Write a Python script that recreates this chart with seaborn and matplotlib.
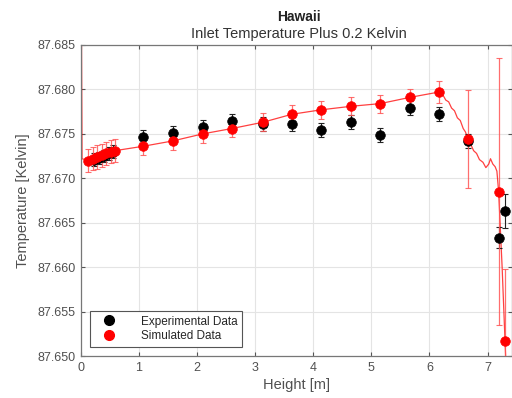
import matplotlib
matplotlib.use("Agg")
import matplotlib.pyplot as plt
import seaborn as sns
import pandas as pd
from matplotlib.lines import Line2D

# Simulated data points (height in m, temperature in K, uncertainty in K)
sim_height = [0.12, 0.20, 0.28, 0.36, 0.44, 0.52, 0.58, 1.07, 1.58, 2.10, 2.60,
              3.13, 3.63, 4.13, 4.65, 5.15, 5.66, 6.16, 6.66, 7.19, 7.30]
sim_temp = [87.6720, 87.6722, 87.6724, 87.6726, 87.6728, 87.6730, 87.6731,
            87.6736, 87.6742, 87.6750, 87.6756, 87.6763, 87.6772, 87.6777,
            87.6781, 87.6784, 87.6791, 87.6797, 87.6744, 87.6685, 87.6517]
sim_err = [0.0013, 0.0013, 0.0013, 0.0013, 0.0013, 0.0013, 0.0013,
           0.0010, 0.0010, 0.0010, 0.0010, 0.0010, 0.0010, 0.0010,
           0.0010, 0.0010, 0.0010, 0.0012, 0.0055, 0.0150, 0.0081]

# Experimental data points
exp_height = [0.22, 0.32, 0.40, 0.48, 0.56, 1.07, 1.58, 2.10, 2.60, 3.13, 3.63,
              4.13, 4.65, 5.15, 5.66, 6.16, 6.66, 7.19, 7.30]
exp_temp = [87.6721, 87.6723, 87.6725, 87.6728, 87.6730, 87.6746, 87.6751,
            87.6758, 87.6764, 87.6761, 87.6761, 87.6754, 87.6763, 87.6749,
            87.6779, 87.6772, 87.6742, 87.6633, 87.6663]
exp_err = [0.0007, 0.0007, 0.0007, 0.0007, 0.0007, 0.0008, 0.0008, 0.0008,
           0.0008, 0.0008, 0.0008, 0.0008, 0.0008, 0.0008, 0.0008, 0.0008,
           0.0008, 0.0012, 0.0019]

# Continuous simulated temperature profile along the height
profile_height = [0.0, 0.02, 0.12, 0.58, 1.07, 1.58, 2.10, 2.60, 3.13, 3.63,
                  4.13, 4.65, 5.15, 5.66, 6.16, 6.22, 6.28, 6.33, 6.38, 6.43,
                  6.48, 6.53, 6.58, 6.62, 6.66, 6.71, 6.76, 6.81, 6.86, 6.92,
                  6.97, 7.02, 7.05, 7.09, 7.13, 7.16, 7.19, 7.25, 7.30, 7.34]
profile_temp = [87.7000, 87.6722, 87.6720, 87.6731, 87.6736, 87.6742, 87.6750,
                87.6756, 87.6763, 87.6772, 87.6777, 87.6781, 87.6784, 87.6791,
                87.6797, 87.6795, 87.6788, 87.6786, 87.6779, 87.6776, 87.6768,
                87.6765, 87.6756, 87.6752, 87.6744, 87.6738, 87.6731, 87.6728,
                87.6721, 87.6718, 87.6712, 87.6716, 87.6722, 87.6716, 87.6713,
                87.6708, 87.6685, 87.6600, 87.6517, 87.6450]

x_ticks = [0, 1, 2, 3, 4, 5, 6, 7]
y_ticks = [87.650, 87.655, 87.660, 87.665, 87.670, 87.675, 87.680, 87.685]

sns.set_style("white")
plt.rcParams["font.family"] = ["Liberation Sans", "DejaVu Sans"]

fig = plt.figure(figsize=(5.12, 3.98), dpi=100)
ax = fig.add_axes([0.158, 0.1055, 0.842, 0.7815])

prof = pd.DataFrame({"h": profile_height, "t": profile_temp})
sim = pd.DataFrame({"h": sim_height, "t": sim_temp, "e": sim_err})
exp = pd.DataFrame({"h": exp_height, "t": exp_temp, "e": exp_err})

red = "#ff0000"
sns.lineplot(data=prof, x="h", y="t", ax=ax, color=red, lw=0.9, alpha=0.75,
             sort=False, zorder=2)

ax.errorbar(exp["h"], exp["t"], yerr=exp["e"], fmt="none", ecolor="#222222",
            elinewidth=0.8, capsize=2.5, capthick=0.8, zorder=3)
ax.errorbar(sim["h"], sim["t"], yerr=sim["e"], fmt="none", ecolor="#ff5555",
            elinewidth=0.9, capsize=2.5, capthick=0.8, alpha=0.85, zorder=3)

sns.scatterplot(data=exp, x="h", y="t", ax=ax, color="black", s=48,
                edgecolor="black", linewidth=0.5, zorder=4)
sns.scatterplot(data=sim, x="h", y="t", ax=ax, color=red, s=48,
                edgecolor=red, linewidth=0.5, zorder=5)

ax.set_xlim(0, 7.42)
ax.set_ylim(87.650, 87.685)
ax.set_xticks(x_ticks)
ax.set_yticks(y_ticks)
ax.set_yticklabels([f"{v:.3f}" for v in y_ticks])
ax.grid(True, color="#e4e4e4", lw=0.8)
ax.set_axisbelow(True)
ax.tick_params(direction="in", length=3, width=0.8, colors="#555555",
               labelsize=9, labelcolor="#505050", top=True, right=True,
               bottom=True, left=True, pad=4)
for side in ["left", "bottom", "top", "right"]:
    ax.spines[side].set_color("#777777")
    ax.spines[side].set_linewidth(0.9)

ax.set_xlabel("Height [m]", fontsize=10.5, color="#505050", labelpad=3)
ax.set_ylabel("Temperature [Kelvin]", fontsize=10.5, color="#505050", labelpad=5)

fig.text(0.584, 0.958, "Hawaii", ha="center", va="center", fontsize=10,
         fontweight="bold", color="#222222")
fig.text(0.584, 0.914, "Inlet Temperature Plus 0.2 Kelvin", ha="center",
         va="center", fontsize=10.5, color="#333333")

handles = [
    Line2D([0], [0], marker="o", color="black", ls="none", markersize=7),
    Line2D([0], [0], marker="o", color=red, ls="none", markersize=7),
]
leg = ax.legend(handles, ["Experimental Data", "Simulated Data"],
                loc="lower left", bbox_to_anchor=(0.022, 0.03), fontsize=8.5,
                frameon=True, fancybox=False, framealpha=1, edgecolor="#555555",
                handletextpad=1.5, borderpad=0.4, labelspacing=0.2,
                handlelength=2.4, borderaxespad=0.0)
leg.get_frame().set_linewidth(0.8)

fig.savefig("out.png", dpi=100)
